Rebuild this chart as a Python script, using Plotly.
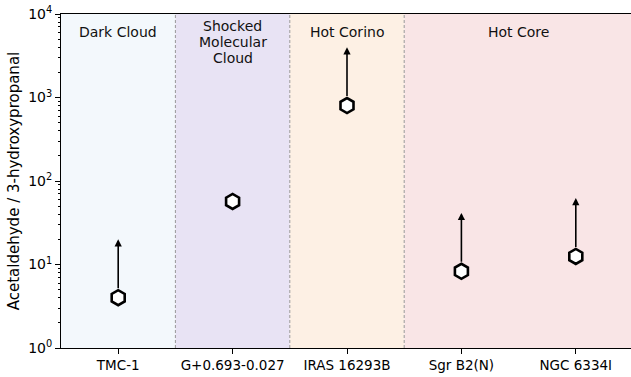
import math
import plotly.graph_objects as go

# Sources and measured ratios (acetaldehyde / 3-hydroxypropanal)
sources = ["TMC-1", "G+0.693-0.027", "IRAS 16293B", "Sgr B2(N)", "NGC 6334I"]
ratios = [4.0, 57.0, 800.0, 8.3, 12.5]
lower_limit = [True, False, True, True, True]
limit_factor = 5.0  # arrow length for lower limits (multiplicative)

# Environment groups: label, first and last source index
env_labels = ["Dark Cloud", "Shocked\nMolecular\nCloud", "Hot Corino", "Hot Core"]
env_spans = [(0, 0), (1, 1), (2, 2), (3, 4)]
env_colors = ["#f3f8fc", "#e8e3f4", "#fdf0e4", "#f9e5e6"]

ytick_vals = [1, 10, 100, 1000, 10000]
ytick_text = ["10<sup>0</sup>", "10<sup>1</sup>", "10<sup>2</sup>", "10<sup>3</sup>", "10<sup>4</sup>"]

x = list(range(len(sources)))

fig = go.Figure()

shapes = []
annotations = []
LINE_GAP = 16  # px between label lines
for (lo, hi), col, lab in zip(env_spans, env_colors, env_labels):
    shapes.append(dict(type="rect", xref="x", yref="paper", x0=lo - 0.5, x1=hi + 0.5,
                       y0=0, y1=1, fillcolor=col, line=dict(width=0), layer="below"))
    lines = lab.split("\n")
    first = 18 if len(lines) == 1 else 12
    for k, line in enumerate(lines):
        annotations.append(dict(x=(lo + hi) / 2, y=1, xref="x", yref="paper",
                                yshift=-(first + k * LINE_GAP), text=line, showarrow=False,
                                yanchor="middle", align="center",
                                font=dict(size=14, color="#111111", family="DejaVu Sans")))
# dashed separators between environments
for (lo, hi) in env_spans[:-1]:
    shapes.append(dict(type="line", xref="x", yref="paper", x0=hi + 0.5, x1=hi + 0.5,
                       y0=0, y1=1, line=dict(color="#999999", width=1, dash="3px,2px"),
                       layer="below"))

# lower-limit arrows
for xi, r, lim in zip(x, ratios, lower_limit):
    if lim:
        annotations.append(dict(x=xi, y=math.log10(r * limit_factor), ax=xi, ay=math.log10(r),
                                xref="x", yref="y", axref="x", ayref="y", text="",
                                showarrow=True, arrowhead=2, arrowsize=0.9, arrowwidth=1.6,
                                arrowcolor="black", startstandoff=8))

fig.add_trace(go.Scatter(
    x=x, y=ratios, mode="markers",
    marker=dict(symbol="hexagon", size=15, color="white",
                line=dict(color="black", width=2.6)),
    showlegend=False, hoverinfo="skip", cliponaxis=False,
))

# minor tick positions at 2..9 of each decade
minor_vals = [m * 10 ** d for d in range(4) for m in range(2, 10)]

fig.update_layout(
    width=631, height=377,
    margin=dict(l=61, r=0, t=14, b=29),
    plot_bgcolor="white", paper_bgcolor="white",
    font=dict(family="DejaVu Sans", size=13, color="black"),
    shapes=shapes, annotations=annotations,
)

fig.update_xaxes(
    range=[-0.5, 4.5 - 2 / 114.4],
    tickvals=x, ticktext=sources,
    ticks="outside", ticklen=5, tickwidth=1.2, tickcolor="black",
    showline=True, linecolor="black", linewidth=1, mirror=True,
    showgrid=False, zeroline=False, tickfont=dict(size=13.5),
)
fig.update_yaxes(
    type="log", range=[0, 4],
    tickvals=ytick_vals, ticktext=ytick_text,
    ticks="outside", ticklen=5, tickwidth=1.2, tickcolor="black",
    minor=dict(tickvals=minor_vals, ticks="outside", ticklen=2.5, tickwidth=0.8,
               tickcolor="black", showgrid=False),
    showline=True, linecolor="black", linewidth=1,
    showgrid=False, zeroline=False, tickfont=dict(size=14),
    title=dict(text="Acetaldehyde / 3-hydroxypropanal", font=dict(size=15), standoff=4),
)

fig.write_html("out.html")
